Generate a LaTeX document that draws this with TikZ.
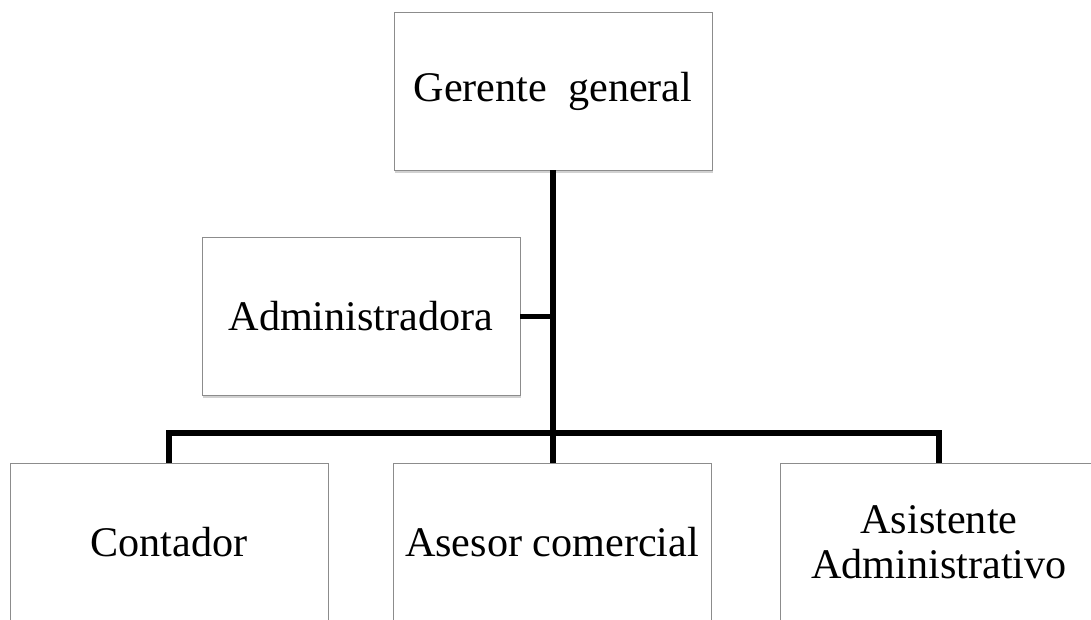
\documentclass[tikz,border=0pt]{standalone}
\usepackage{fontspec}
\setmainfont{Liberation Serif}
\usetikzlibrary{shadows}
\begin{document}
\begin{tikzpicture}[x=0.025cm,y=-0.025cm,inner sep=0pt,outer sep=0pt,
orgbox/.style={draw=black!45,line width=0.6pt,fill=white,rectangle,minimum width=7.95cm,minimum height=3.95cm,align=center,
  font=\fontsize{30}{34}\selectfont,
  drop shadow={shadow xshift=0.5pt,shadow yshift=-2pt,fill=black,opacity=0.18}},
link/.style={line width=3.6pt}]
\clip (0,0) rectangle (1091,619);
\fill[white] (0,0) rectangle (1091,619);
\draw (553,91) node[orgbox] (gerente) {Gerente~~general};
\draw (361,316.5) node[orgbox] (admin) {Administradora};
\draw (169,542) node[orgbox] (contador) {Contador};
\draw (552,542) node[orgbox] (asesor) {Asesor comercial};
\draw (939,542) node[orgbox] (asistente) {Asistente\\[-2pt]Administrativo};
\draw[link] (gerente.south) -- (gerente.south |- asesor.north);
\draw[link] (admin.east) -- (admin.east -| gerente.south);
\draw[link,line join=miter] (contador.north) -- ++(0,-30) -| (asistente.north);
\end{tikzpicture}
\end{document}
